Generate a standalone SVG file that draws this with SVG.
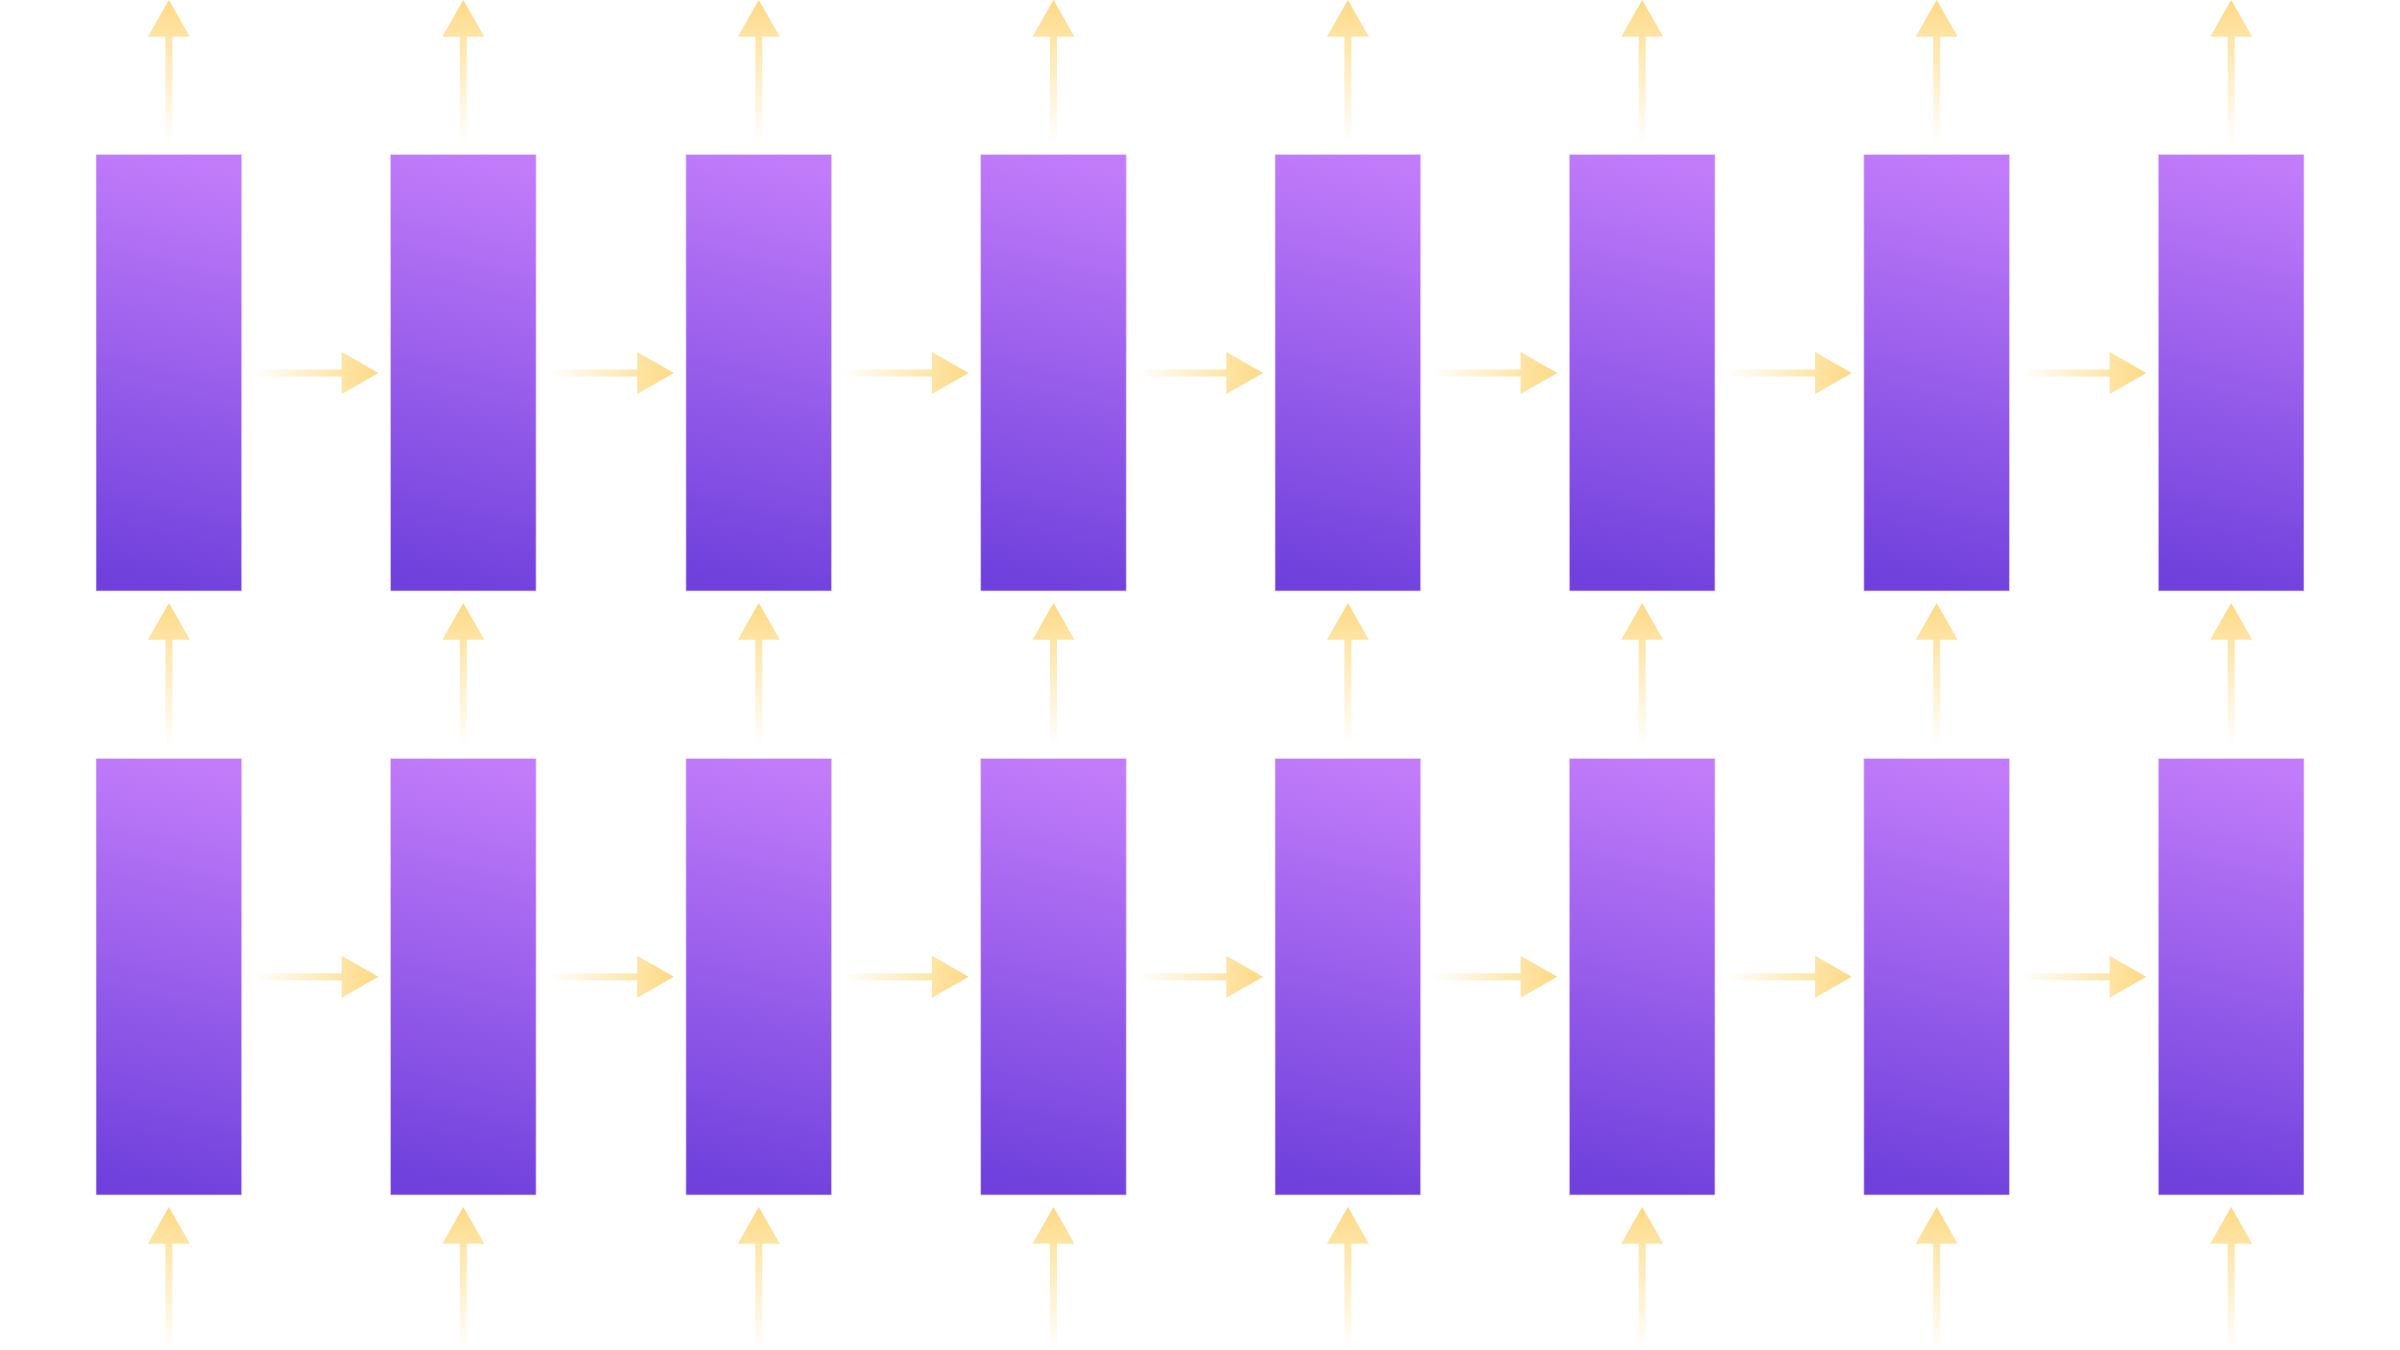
<svg xmlns="http://www.w3.org/2000/svg" xmlns:xlink="http://www.w3.org/1999/xlink" width="2400" height="1350" viewBox="0 0 2400 1350">
  <style>
    .cell { fill: url(#cellGrad); stroke: #e9d5ff; stroke-width: 1; stroke-opacity: 0.7; }
  </style>
  <defs>
    <linearGradient id="cellGrad" x1="0.46" y1="1" x2="0.54" y2="0">
      <stop offset="0" stop-color="#6f40dc"/>
      <stop offset="1" stop-color="#c27cfa"/>
    </linearGradient>
    <linearGradient id="shaftV" x1="0" y1="1" x2="0" y2="0">
      <stop offset="0" stop-color="#fde29c" stop-opacity="0"/>
      <stop offset="1" stop-color="#fde29c" stop-opacity="0.9"/>
    </linearGradient>
    <linearGradient id="shaftH" x1="0" y1="0" x2="1" y2="0">
      <stop offset="0" stop-color="#fde29c" stop-opacity="0"/>
      <stop offset="1" stop-color="#fde29c" stop-opacity="0.9"/>
    </linearGradient>
    <linearGradient id="headV" x1="0" y1="0" x2="0" y2="1">
      <stop offset="0" stop-color="#fdd985"/>
      <stop offset="1" stop-color="#fee4a4"/>
    </linearGradient>
    <linearGradient id="headH" x1="1" y1="0" x2="0" y2="0">
      <stop offset="0" stop-color="#fdd985"/>
      <stop offset="1" stop-color="#fee4a4"/>
    </linearGradient>
    <g id="arrowV">
      <rect x="-3.5" y="36" width="7" height="107.5" fill="url(#shaftV)"/>
      <polygon points="0,0 -21,36.7 21,36.7" fill="url(#headV)"/>
    </g>
    <g id="arrowH">
      <rect x="-124.9" y="-3.5" width="89" height="7" fill="url(#shaftH)"/>
      <polygon points="0,0 -36.7,-21 -36.7,21" fill="url(#headH)"/>
    </g>
  </defs>
  <rect width="2400" height="1350" fill="#ffffff"/>

  <g id="connectors">
    <!-- top outputs -->
    <use href="#arrowV" x="168.9" y="0"/>
    <use href="#arrowV" x="463.3" y="0"/>
    <use href="#arrowV" x="758.8" y="0"/>
    <use href="#arrowV" x="1053.5" y="0"/>
    <use href="#arrowV" x="1347.9" y="0"/>
    <use href="#arrowV" x="1642.2" y="0"/>
    <use href="#arrowV" x="1936.7" y="0"/>
    <use href="#arrowV" x="2231.2" y="0"/>
    <!-- between rows -->
    <use href="#arrowV" x="168.9" y="603"/>
    <use href="#arrowV" x="463.3" y="603"/>
    <use href="#arrowV" x="758.8" y="603"/>
    <use href="#arrowV" x="1053.5" y="603"/>
    <use href="#arrowV" x="1347.9" y="603"/>
    <use href="#arrowV" x="1642.2" y="603"/>
    <use href="#arrowV" x="1936.7" y="603"/>
    <use href="#arrowV" x="2231.2" y="603"/>
    <!-- bottom inputs -->
    <use href="#arrowV" x="168.9" y="1207"/>
    <use href="#arrowV" x="463.3" y="1207"/>
    <use href="#arrowV" x="758.8" y="1207"/>
    <use href="#arrowV" x="1053.5" y="1207"/>
    <use href="#arrowV" x="1347.9" y="1207"/>
    <use href="#arrowV" x="1642.2" y="1207"/>
    <use href="#arrowV" x="1936.7" y="1207"/>
    <use href="#arrowV" x="2231.2" y="1207"/>
    <!-- top row recurrence -->
    <use href="#arrowH" x="378.4" y="373"/>
    <use href="#arrowH" x="673.9" y="373"/>
    <use href="#arrowH" x="968.6" y="373"/>
    <use href="#arrowH" x="1263" y="373"/>
    <use href="#arrowH" x="1557.3" y="373"/>
    <use href="#arrowH" x="1851.8" y="373"/>
    <use href="#arrowH" x="2146.3" y="373"/>
    <!-- bottom row recurrence -->
    <use href="#arrowH" x="378.4" y="976.8"/>
    <use href="#arrowH" x="673.9" y="976.8"/>
    <use href="#arrowH" x="968.6" y="976.8"/>
    <use href="#arrowH" x="1263" y="976.8"/>
    <use href="#arrowH" x="1557.3" y="976.8"/>
    <use href="#arrowH" x="1851.8" y="976.8"/>
    <use href="#arrowH" x="2146.3" y="976.8"/>
  </g>

  <g id="top-1"><rect class="cell" x="96" y="154.5" width="145.7" height="436.5"/></g>
  <g id="top-2"><rect class="cell" x="390.4" y="154.5" width="145.7" height="436.5"/></g>
  <g id="top-3"><rect class="cell" x="685.9" y="154.5" width="145.7" height="436.5"/></g>
  <g id="top-4"><rect class="cell" x="980.6" y="154.5" width="145.7" height="436.5"/></g>
  <g id="top-5"><rect class="cell" x="1275" y="154.5" width="145.7" height="436.5"/></g>
  <g id="top-6"><rect class="cell" x="1569.3" y="154.5" width="145.7" height="436.5"/></g>
  <g id="top-7"><rect class="cell" x="1863.8" y="154.5" width="145.7" height="436.5"/></g>
  <g id="top-8"><rect class="cell" x="2158.3" y="154.5" width="145.7" height="436.5"/></g>

  <g id="bottom-1"><rect class="cell" x="96" y="758.5" width="145.7" height="436.5"/></g>
  <g id="bottom-2"><rect class="cell" x="390.4" y="758.5" width="145.7" height="436.5"/></g>
  <g id="bottom-3"><rect class="cell" x="685.9" y="758.5" width="145.7" height="436.5"/></g>
  <g id="bottom-4"><rect class="cell" x="980.6" y="758.5" width="145.7" height="436.5"/></g>
  <g id="bottom-5"><rect class="cell" x="1275" y="758.5" width="145.7" height="436.5"/></g>
  <g id="bottom-6"><rect class="cell" x="1569.3" y="758.5" width="145.7" height="436.5"/></g>
  <g id="bottom-7"><rect class="cell" x="1863.8" y="758.5" width="145.7" height="436.5"/></g>
  <g id="bottom-8"><rect class="cell" x="2158.3" y="758.5" width="145.7" height="436.5"/></g>
</svg>
